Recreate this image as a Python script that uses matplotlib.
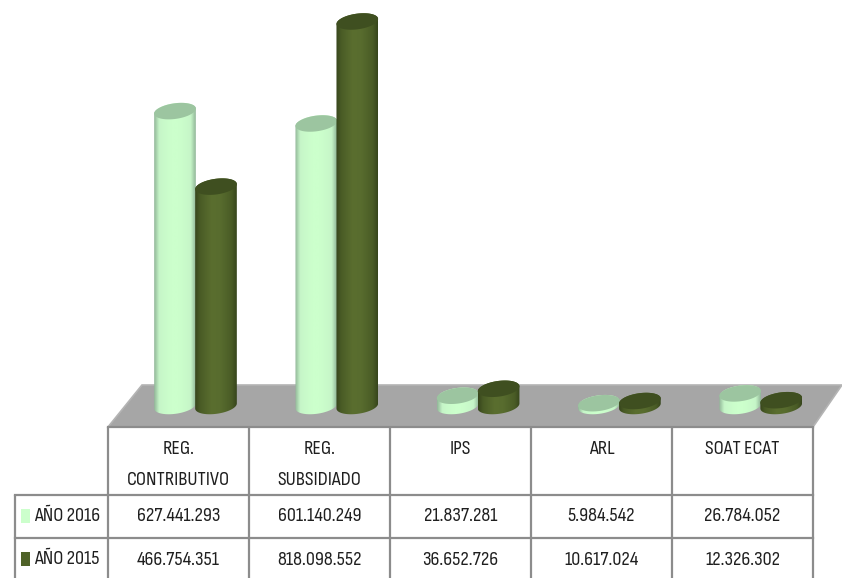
import numpy as np
import matplotlib
matplotlib.use("Agg")
import matplotlib.pyplot as plt
from matplotlib.patches import Polygon
from matplotlib.colors import LinearSegmentedColormap

categories = ["REG.\nCONTRIBUTIVO", "REG.\nSUBSIDIADO", "IPS", "ARL", "SOAT ECAT"]
series_names = ["AÑO 2016", "AÑO 2015"]
values_2016 = [627441293, 601140249, 21837281, 5984542, 26784052]
values_2015 = [466754351, 818098552, 36652726, 10617024, 12326302]

W, H = 842, 578
plt.rcParams['font.family'] = ['Sofia Sans Condensed', 'Liberation Sans', 'DejaVu Sans']
fig = plt.figure(figsize=(W / 100, H / 100), dpi=100, facecolor='white')

pg = fig.add_axes([0, 0, 1, 1])
pg.set_xlim(0, W); pg.set_ylim(H, 0); pg.axis('off')

pg.add_patch(Polygon([(108, 427), (813, 427), (842, 385), (142, 385)], closed=True,
                     fc='#a6a6a6', ec='#b4b4b4', lw=1.2, zorder=1))

GRID = '#8c8c8c'
col_x = [108 + 141 * i for i in range(6)]
for x in col_x:
    pg.plot([x, x], [427, H], color=GRID, lw=1.6, zorder=2, solid_capstyle='butt')
pg.plot([15, 15], [495, H], color=GRID, lw=1.6, zorder=2, solid_capstyle='butt')
pg.plot([108, 813], [427, 427], color=GRID, lw=1.6, zorder=2)
for y in (495, 538):
    pg.plot([15, 813], [y, y], color=GRID, lw=1.6, zorder=2)

TXT = '#1f1f1f'
FS = 14.7
def fmt(v):
    return f"{v:,}".replace(",", ".")

for i, c in enumerate(categories):
    cx = (col_x[i] + col_x[i + 1]) / 2
    for j, line in enumerate(c.split("\n")):
        pg.text(cx, 449 + 31 * j, line, ha='center', va='center', fontsize=FS, color=TXT)
    pg.text(cx, 516, fmt(values_2016[i]), ha='center', va='center', fontsize=FS, color=TXT)
    pg.text(cx, 560, fmt(values_2015[i]), ha='center', va='center', fontsize=FS, color=TXT)

legend_cols = ['#ccffcc', '#4f6228']
for name, y, col in zip(series_names, (516, 559), legend_cols):
    pg.add_patch(plt.Rectangle((21, y - 7), 9, 14, fc=col, ec='none', zorder=3))
    pg.text(34, y, name, ha='left', va='center', fontsize=FS, color=TXT)

SPACING = 141.3
X0 = 195.5
BASE = 406.0
PX_PER_VAL = 0.470e-6
ax = fig.add_axes([0, 0, 1, 1], facecolor='none')
xlim = (-X0 / SPACING, (W - X0) / SPACING)
ylim = ((BASE - H) / PX_PER_VAL, BASE / PX_PER_VAL)
ax.axis('off')

A, B, TILT = 21.0, 7.8, np.deg2rad(8)
t = np.linspace(0, 2 * np.pi, 121)
ex = A * np.cos(t) * np.cos(TILT) - B * np.sin(t) * np.sin(TILT)
ey = A * np.cos(t) * np.sin(TILT) + B * np.sin(t) * np.cos(TILT)

def cylinder(xc, v, cmap, top_col, zorder):
    dx = ex / SPACING
    dy = ey / PX_PER_VAL
    bottom = np.c_[xc + dx, dy]
    top = np.c_[xc + dx, v + dy]
    il, ir = np.argmin(ex), np.argmax(ex)
    chord = np.interp(ex, [ex[il], ex[ir]], [ey[il], ey[ir]])
    lo = bottom[ey <= chord]
    hi = top[ey >= chord]
    lo = lo[np.argsort(lo[:, 0])]
    hi = hi[np.argsort(-hi[:, 0])]
    body = Polygon(np.vstack([lo, hi]), closed=True, fc='none', ec='none')
    ax.add_patch(body)
    grad = np.linspace(0, 1, 64).reshape(1, -1)
    hw = A / SPACING
    im = ax.imshow(grad, extent=(xc - hw, xc + hw, -8e7, v + 8e7), cmap=cmap, aspect='auto',
                   zorder=zorder, interpolation='bilinear', origin='lower')
    im.set_clip_path(body)
    ax.add_patch(Polygon(top, closed=True, fc=top_col, ec='none', zorder=zorder + 0.1))

stops = [0, 0.12, 0.4, 0.6, 0.88, 1]
light = LinearSegmentedColormap.from_list('l', list(zip(stops, ['#93b89a', '#c6f6c8', '#ccffcc', '#ccffcc', '#c6f6c8', '#93b89a'])))
dark = LinearSegmentedColormap.from_list('d', list(zip(stops, ['#37461c', '#4a5c26', '#5a6e2f', '#586c2e', '#4a5c26', '#37461c'])))

OFF = 20.5 / SPACING
z = 5
for i in range(len(categories)):
    cylinder(i - OFF, values_2016[i], light, '#9cc5a0', z); z += 1
    cylinder(i + OFF, values_2015[i], dark, '#3f4f20', z); z += 1

ax.set_xlim(*xlim)
ax.set_ylim(*ylim)
fig.savefig('out.png', dpi=100, facecolor='white')
